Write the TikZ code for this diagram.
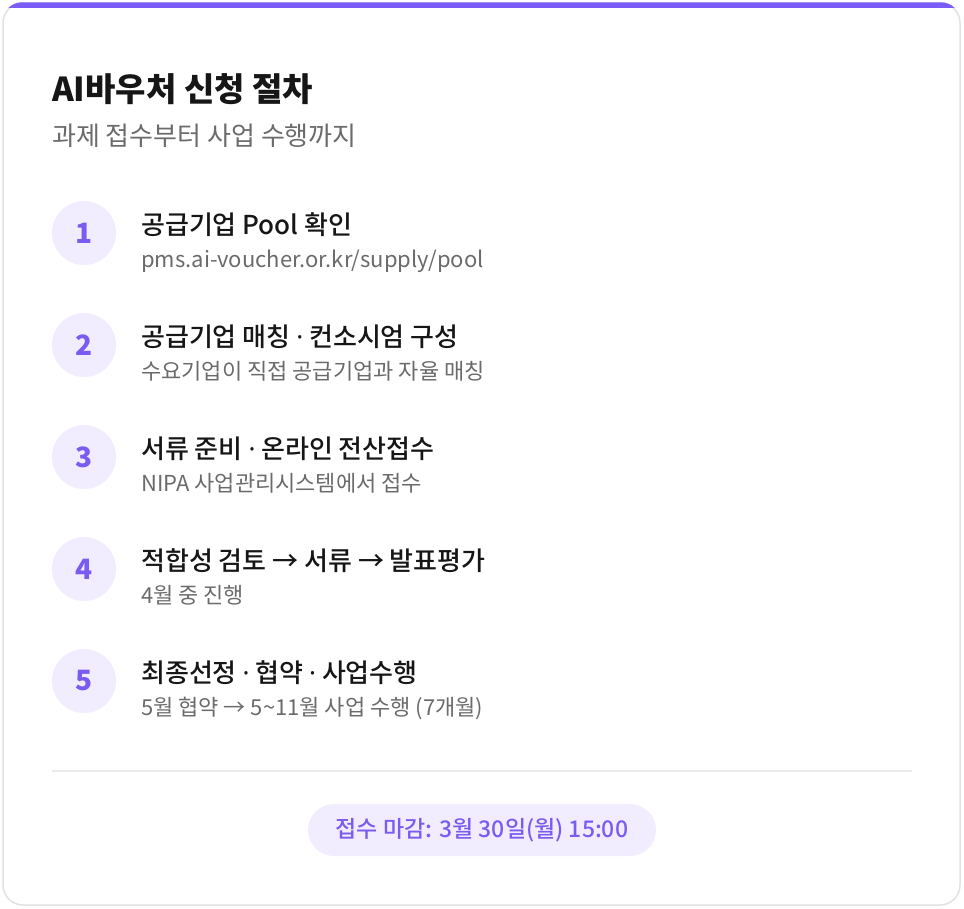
\documentclass[tikz,border=0pt]{standalone}
\usepackage{fontspec}
\setmainfont{Noto Sans CJK KR}
\newfontfamily\krmedium{Noto Sans CJK KR}[UprightFont={* Medium}, BoldFont={* Bold}]
\newfontfamily\latinfont{Noto Sans}
\usepackage{tikz}
\usetikzlibrary{positioning, backgrounds}

\definecolor{accent}{HTML}{7C5CF6}
\definecolor{numfill}{HTML}{F1EDFE}
\definecolor{numtext}{HTML}{7B5CF0}
\definecolor{inktext}{HTML}{161616}
\definecolor{greytext}{HTML}{6B6B6B}
\definecolor{rulegrey}{HTML}{EBEBEB}
\definecolor{cardedge}{HTML}{E2E2E2}

\newcommand{\middot}{ {\latinfont ·} }

\tikzset{
    numcircle/.style={circle, fill=numfill, minimum size=64pt, inner sep=0pt,
        text=numtext, font=\fontsize{28}{30}\selectfont\bfseries},
    steptitle/.style={anchor=base west, inner sep=0pt, text=inktext,
        font=\krmedium\fontsize{26}{30}\selectfont},
    stepnote/.style={anchor=base west, inner sep=0pt, text=greytext,
        font=\fontsize{22}{26}\selectfont},
    pill/.style={fill=numfill, rounded corners=26pt, minimum width=348pt,
        minimum height=52pt, inner sep=0pt, text=numtext,
        font=\krmedium\fontsize{23}{27}\selectfont}
}

\begin{document}
\begin{tikzpicture}[x=1pt, y=-1pt]
        \useasboundingbox (0,0) rectangle (964,908);
        \fill[white] (0,0) rectangle (964,908);

        % Card with soft edge
        \node[draw=cardedge, line width=1.5pt, fill=white, rounded corners=20pt,
            minimum width=957pt, minimum height=902pt, inner sep=0pt] (card) at (481.5,454) {};

        % Purple band along the top edge
        \begin{scope}
            \clip[rounded corners=20pt] (card.north west) rectangle (card.south east);
            \fill[accent] (card.north west) rectangle ([yshift=-6pt]card.north east);
        \end{scope}

        % Heading
        \node[anchor=base west, inner sep=0pt, text=inktext,
            font=\fontsize{33}{36}\selectfont\bfseries] (title) at (52,101) {AI바우처 신청 절차};
        \node[anchor=base west, inner sep=0pt, text=greytext,
            font=\fontsize{26}{30}\selectfont] (subtitle) at (52,145) {과제 접수부터 사업 수행까지};

        % Step circles
        \node[numcircle] (n1) at (84,233) {1};
        \node[numcircle] (n2) at (84,345) {2};
        \node[numcircle] (n3) at (84,457) {3};
        \node[numcircle] (n4) at (84,569) {4};
        \node[numcircle] (n5) at (84,681) {5};

        % Step titles and notes
        \node[steptitle] (t1) at ([xshift=57pt, yshift=-1pt]n1.center) {공급기업 Pool 확인};
        \node[stepnote] (s1) at ([xshift=57pt, yshift=-34pt]n1.center) {pms.ai-voucher.or.kr/supply/pool};
        \node[steptitle] (t2) at ([xshift=57pt, yshift=-1pt]n2.center) {공급기업 매칭\middot 컨소시엄 구성};
        \node[stepnote] (s2) at ([xshift=57pt, yshift=-34pt]n2.center) {수요기업이 직접 공급기업과 자율 매칭};
        \node[steptitle] (t3) at ([xshift=57pt, yshift=-1pt]n3.center) {서류 준비\middot 온라인 전산접수};
        \node[stepnote] (s3) at ([xshift=57pt, yshift=-34pt]n3.center) {NIPA 사업관리시스템에서 접수};
        \node[steptitle] (t4) at ([xshift=57pt, yshift=-1pt]n4.center) {적합성 검토 → 서류 → 발표평가};
        \node[stepnote] (s4) at ([xshift=57pt, yshift=-34pt]n4.center) {4월 중 진행};
        \node[steptitle] (t5) at ([xshift=57pt, yshift=-1pt]n5.center) {최종선정\middot 협약\middot 사업수행};
        \node[stepnote] (s5) at ([xshift=57pt, yshift=-34pt]n5.center) {5월 협약 → 5\textasciitilde11월 사업 수행 (7개월)};

        % Divider
        \coordinate (ruleL) at (52,771);
        \coordinate (ruleR) at (912,771);
        \draw[rulegrey, line width=1.5pt] (ruleL) -- (ruleR);

        % Deadline
        \node[pill] (deadline) at (482,830) {접수 마감: 3월 30일(월) 15:00};
    \end{tikzpicture}
\end{document}
